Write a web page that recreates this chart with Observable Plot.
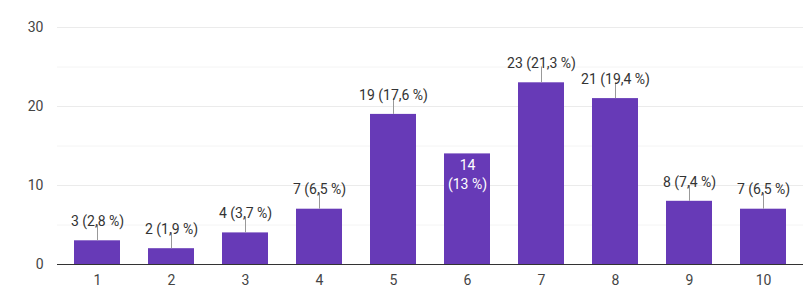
<!DOCTYPE html>
<html>
<head>
<meta charset="utf-8">
<script src="https://cdn.jsdelivr.net/npm/d3@7"></script>
<script src="https://cdn.jsdelivr.net/npm/@observablehq/plot@0.6"></script>
<style>
  html, body { margin: 0; padding: 0; background: #fff; }
  #chart svg { display: block; }
</style>
</head>
<body>
<div id="chart"></div>
<script>
const categories = ["1", "2", "3", "4", "5", "6", "7", "8", "9", "10"];
const counts = [3, 2, 4, 7, 19, 14, 23, 21, 8, 7];
const insideLabelCategories = ["6"];
const yTicks = [0, 10, 20, 30];
const minorGrid = [5, 15, 25];

const total = d3.sum(counts);
const fmtPct = v => {
  const s = (v / total * 100).toFixed(1).replace(/\.0$/, "").replace(".", ",");
  return s + " %";
};
const data = categories.map((c, i) => ({
  cat: c,
  value: counts[i],
  pct: fmtPct(counts[i]),
  inside: insideLabelCategories.includes(c)
}));
const outside = data.filter(d => !d.inside);
const inside = data.filter(d => d.inside);

const purple = "#673ab7";
const font = "Roboto, 'Liberation Sans', Arial, sans-serif";

const chart = Plot.plot({
  width: 803,
  height: 308,
  marginLeft: 57,
  marginRight: 0,
  marginTop: 27,
  marginBottom: 44,
  style: { fontFamily: font, fontSize: "14px", color: "#444", background: "#fff" },
  x: { domain: categories, paddingInner: 0.38, paddingOuter: 0.19, align: 0.5, label: null },
  y: { domain: [0, 30], label: null },
  marks: [
    Plot.ruleY(minorGrid, { stroke: "#f4f4f4" }),
    Plot.ruleY(yTicks.filter(t => t > 0), { stroke: "#ebebeb", strokeWidth: 1 }),
    Plot.barY(data, { x: "cat", y: "value", fill: purple }),
    Plot.ruleX(outside, { x: "cat", y1: "value", y2: d => d.value + 2, stroke: "#999", strokeWidth: 1 }),
    Plot.text(outside, {
      x: "cat", y: d => d.value + 2, text: d => `${d.value} (${d.pct})`,
      lineAnchor: "bottom", dy: 1, fill: "#333", fontSize: 14
    }),
    Plot.text(inside, {
      x: "cat", y: "value", text: d => `${d.value}\n(${d.pct})`,
      lineAnchor: "top", dy: 3, lineHeight: 1.35, fill: "#fff", fontSize: 14
    }),
    Plot.ruleY([0], { stroke: "#333", strokeWidth: 1 }),
    Plot.axisY({ ticks: yTicks, tickSize: 0, tickPadding: 14, fill: "#444", fontSize: 14, label: null }),
    Plot.axisX({ tickSize: 0, tickPadding: 11, fill: "#444", fontSize: 14, label: null })
  ]
});
document.getElementById("chart").appendChild(chart);
</script>
</body>
</html>
